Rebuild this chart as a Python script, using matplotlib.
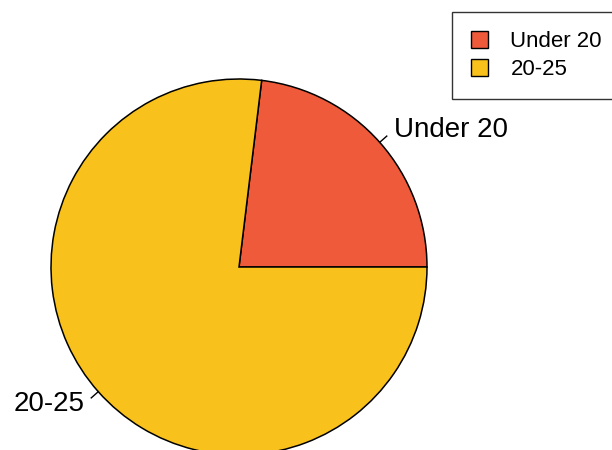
import numpy as np
import matplotlib.pyplot as plt
from matplotlib.patches import Patch

plt.rcParams['font.family'] = ['Liberation Sans', 'DejaVu Sans']

labels = ["Under 20", "20-25"]
counts = [3, 10]
colors = ["#EF5A3A", "#F9C11C"]

fig = plt.figure(figsize=(6.12, 4.5), dpi=100)
ax = fig.add_axes([0, 0, 1, 1])
r_px = 188.0

wedges, _ = ax.pie(counts, colors=colors, startangle=0, counterclock=True,
                   radius=1, center=(0, 0), frame=True,
                   wedgeprops=dict(edgecolor='black', linewidth=1.1))
ax.set_xlim(-239 / r_px, (612 - 239) / r_px)
ax.set_ylim(-183 / r_px, 267 / r_px)
ax.set_aspect('equal')
ax.axis('off')

# R-style labels: short tick from 1.0 to 1.05, text at 1.1
for w, lab in zip(wedges, labels):
    mid = np.deg2rad((w.theta1 + w.theta2) / 2)
    c, s = np.cos(mid), np.sin(mid)
    ax.plot([c, 1.05 * c], [s, 1.05 * s], color='black', lw=1)
    ax.text(1.1 * c, 1.1 * s, lab, fontsize=20,
            ha='left' if c > 0 else 'right', va='center')

handles = [Patch(facecolor=col, edgecolor='black', linewidth=1) for col in colors]
leg = fig.legend(handles, labels, loc='upper left',
                 bbox_to_anchor=(452 / 612, 1 - 12 / 450), borderaxespad=0,
                 fontsize=16, frameon=True, fancybox=False, edgecolor='black',
                 borderpad=0.85, handlelength=0.78, handleheight=0.78,
                 handletextpad=1.0, labelspacing=0.33)
leg.get_frame().set_linewidth(1.0)

fig.savefig("out.png", dpi=100)
